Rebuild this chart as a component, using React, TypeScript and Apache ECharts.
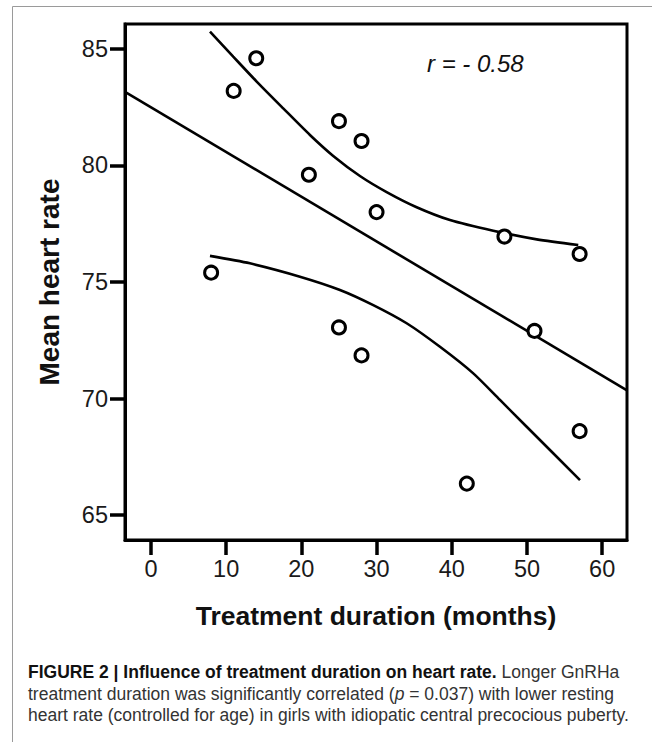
import React, { useEffect, useRef } from "react";
import * as echarts from "echarts";

// Scatter data: treatment duration (months) vs mean heart rate
const durationMonths = [8, 11, 14, 21, 25, 28, 30, 47, 57, 25, 28, 51, 57, 42];
const meanHeartRate = [75.4, 83.2, 84.6, 79.6, 81.9, 81.05, 78.0, 76.95, 76.2, 73.05, 71.85, 72.9, 68.6, 66.35];

// Fitted regression line (end points at the axis limits)
const fitX = [-3.45, 63.3];
const fitY = [83.16, 70.35];

// Upper and lower 95% confidence curves
const upperX = [7.85, 10.94, 14.06, 17.59, 21.14, 24.24, 27.79, 31.34, 35.33, 39.76, 45.52, 51.3, 56.82];
const upperY = [85.74, 84.67, 83.6, 82.45, 81.31, 80.41, 79.55, 78.86, 78.21, 77.66, 77.2, 76.83, 76.59];
const lowerX = [7.85, 13.16, 19.81, 25.13, 29.56, 34.0, 38.43, 42.86, 46.41, 49.96, 57.05];
const lowerY = [76.12, 75.8, 75.23, 74.66, 74.01, 73.23, 72.22, 71.08, 69.94, 68.79, 66.5];

// Axis ticks
const xTicks = [0, 10, 20, 30, 40, 50, 60];
const yTicks = [65, 70, 75, 80, 85];

const zip = (xs: number[], ys: number[]) => xs.map((x, i) => [x, ys[i]]);

const FONT = "'Liberation Sans', Arial, Helvetica, sans-serif";
const CAP = 17.5;

export default function App() {
  const ref = useRef<HTMLDivElement>(null);

  useEffect(() => {
    if (!ref.current) return;
    const chart = echarts.init(ref.current, undefined, { renderer: "svg" });
    const lineStyle = { color: "#000", width: 2.6 };
    chart.setOption({
      animation: false,
      backgroundColor: "#fff",
      grid: {
        left: 125,
        top: 24,
        right: 25,
        bottom: 202,
        show: true,
        borderColor: "#000",
        borderWidth: 3,
        backgroundColor: "transparent",
      },
      xAxis: {
        type: "value",
        min: -3.45,
        max: 63.3,
        name: "Treatment duration (months)",
        nameLocation: "middle",
        nameGap: 62,
        nameTextStyle: { fontFamily: FONT, fontSize: 26.5, fontWeight: "bold", color: "#111" },
        axisLine: { show: true, lineStyle: { color: "#000", width: 3 } },
        axisTick: { show: true, length: 15, lineStyle: { color: "#000", width: 3.5 }, customValues: xTicks },
        axisLabel: { fontFamily: FONT, fontSize: 23.5, color: "#1a1a1a", margin: 17, customValues: xTicks },
        splitLine: { show: false },
      },
      yAxis: {
        type: "value",
        min: 63.93,
        max: 86.07,
        name: "Mean heart rate",
        nameLocation: "middle",
        nameGap: 62,
        nameTextStyle: { fontFamily: FONT, fontSize: 28, fontWeight: "bold", color: "#111" },
        axisLine: { show: true, onZero: false, lineStyle: { color: "#000", width: 3 } },
        axisTick: { show: true, length: 15, lineStyle: { color: "#000", width: 3.5 }, customValues: yTicks },
        axisLabel: { fontFamily: FONT, fontSize: 23.5, color: "#1a1a1a", margin: 17, customValues: yTicks },
        splitLine: { show: false },
      },
      series: [
        {
          type: "line",
          data: zip(fitX, fitY),
          showSymbol: false,
          lineStyle,
          clip: true,
          z: 2,
        },
        {
          type: "line",
          data: zip(upperX, upperY),
          showSymbol: false,
          smooth: 0.25,
          lineStyle,
          z: 2,
        },
        {
          type: "line",
          data: zip(lowerX, lowerY),
          showSymbol: false,
          smooth: 0.25,
          lineStyle,
          z: 2,
        },
        {
          type: "scatter",
          data: zip(durationMonths, meanHeartRate),
          symbol: "circle",
          symbolSize: 13,
          itemStyle: { color: "#fff", borderColor: "#000", borderWidth: 3, opacity: 1 },
          z: 3,
        },
      ],
      graphic: [
        { type: "line", shape: { x1: 12.5, y1: 6.5, x2: 652, y2: 6.5 }, style: { stroke: "#9a9a9a", lineWidth: 1 } },
        { type: "line", shape: { x1: 12.5, y1: 6.5, x2: 12.5, y2: 742 }, style: { stroke: "#9a9a9a", lineWidth: 1 } },
        {
          type: "text",
          x: 427,
          y: 63,
          style: {
            text: "r = - 0.58",
            fontFamily: FONT,
            fontSize: 24,
            fontStyle: "italic",
            fill: "#111",
            verticalAlign: "middle",
            align: "left",
          },
        },
        {
          type: "text",
          x: 28,
          y: 672,
          style: {
            text: "{b|FIGURE 2 | Influence of treatment duration on heart rate.}{n| Longer GnRHa}",
            fontFamily: FONT,
            fontSize: CAP,
            fill: "#333",
            verticalAlign: "middle",
            align: "left",
            rich: {
              b: { fontFamily: FONT, fontSize: CAP, fontWeight: "bold", fill: "#111" },
              n: { fontFamily: FONT, fontSize: CAP, fill: "#333" },
            },
          },
        },
        {
          type: "text",
          x: 28,
          y: 694,
          style: {
            text: "{n|treatment duration was significantly correlated (}{i|p}{n| = 0.037) with lower resting}",
            fontFamily: FONT,
            fontSize: CAP,
            fill: "#333",
            verticalAlign: "middle",
            align: "left",
            rich: {
              n: { fontFamily: FONT, fontSize: CAP, fill: "#333" },
              i: { fontFamily: FONT, fontSize: CAP, fontStyle: "italic", fill: "#333" },
            },
          },
        },
        {
          type: "text",
          x: 28,
          y: 715,
          style: {
            text: "heart rate (controlled for age) in girls with idiopatic central precocious puberty.",
            fontFamily: FONT,
            fontSize: CAP,
            fill: "#333",
            verticalAlign: "middle",
            align: "left",
          },
        },
      ],
    });
    return () => chart.dispose();
  }, []);

  return (
    <div
      ref={ref}
      style={{ position: "fixed", left: 0, top: 0, width: 652, height: 742, background: "#fff" }}
    />
  );
}
